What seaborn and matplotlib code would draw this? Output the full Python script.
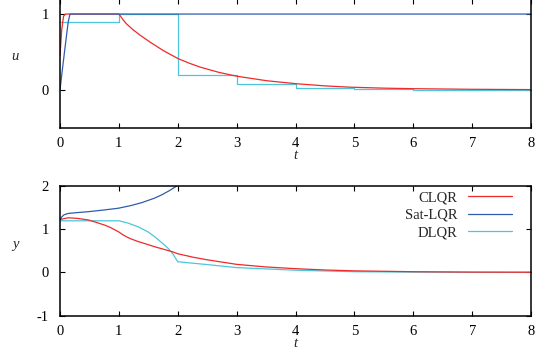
import numpy as np
import pandas as pd
import matplotlib
matplotlib.use("Agg")
import matplotlib.pyplot as plt
import seaborn as sns

# ---- control input u(t) ----
t_clqr_u = [0.0, 0.03, 0.06, 0.09, 1.0, 1.03, 1.07, 1.13, 1.245, 1.38, 1.53, 1.75, 2.01, 2.2, 2.38, 2.7, 3.0, 3.51, 4.02, 4.5, 4.92, 5.5, 6.0, 7.0, 8.0]
clqr_u = [0.45, 0.8, 0.97, 1.0, 1.0, 0.97, 0.925, 0.87, 0.79, 0.71, 0.63, 0.52, 0.41, 0.35, 0.30, 0.23, 0.18, 0.12, 0.08, 0.052, 0.035, 0.022, 0.015, 0.007, 0.003]

t_sat_u = [0.0, 0.05, 0.1, 0.14, 0.17, 8.0]
sat_u = [0.0, 0.33, 0.65, 0.9, 1.0, 1.0]

t_dlqr_u = [0, 1, 2, 3, 4, 5, 6, 7, 8]
dlqr_u = [0.9, 1.0, 0.19, 0.075, 0.027, 0.01, 0.004, 0.0015, 0.0015]

# ---- output y(t) ----
t_clqr_y = [0.0, 0.14, 0.3, 0.48, 0.6, 0.76, 0.85, 0.92, 0.99, 1.06, 1.13, 1.2, 1.33, 1.45, 1.61, 1.9, 2.0, 2.26, 2.5, 3.0, 3.5, 4.0, 4.5, 5.0, 6.0, 7.0, 8.0]
clqr_y = [1.22, 1.26, 1.245, 1.21, 1.16, 1.09, 1.04, 0.99, 0.94, 0.875, 0.82, 0.775, 0.71, 0.66, 0.59, 0.48, 0.43, 0.35, 0.29, 0.185, 0.125, 0.085, 0.055, 0.035, 0.015, 0.006, 0.003]

t_sat_y = [0.0, 0.03, 0.07, 0.14, 0.3, 0.48, 0.75, 0.99, 1.2, 1.39, 1.6, 1.73, 1.85, 1.98, 2.05]
sat_y = [1.2, 1.28, 1.33, 1.36, 1.38, 1.40, 1.44, 1.48, 1.54, 1.61, 1.71, 1.79, 1.88, 1.99, 2.06]

t_dlqr_y = [0.0, 1.0, 1.15, 1.33, 1.5, 1.61, 1.75, 1.84, 1.92, 2.0, 2.5, 3.0, 3.5, 4.0, 5.0, 6.0, 7.0, 8.0]
dlqr_y = [1.19, 1.19, 1.14, 1.05, 0.93, 0.82, 0.66, 0.55, 0.42, 0.245, 0.18, 0.11, 0.08, 0.05, 0.015, 0.006, 0.002, 0.001]

labels = ["CLQR", "Sat-LQR", "DLQR"]
colors = {"CLQR": "#ee2a2a", "Sat-LQR": "#2f5cad", "DLQR": "#4cc6dc"}

x_ticks = [0, 1, 2, 3, 4, 5, 6, 7, 8]
u_ticks = [0, 1]
y_ticks = [-1, 0, 1, 2]

sns.set_theme(style="ticks")
plt.rcParams["font.family"] = ["Liberation Serif", "DejaVu Serif"]
plt.rcParams["axes.unicode_minus"] = False

fs = 10.5
fig = plt.figure(figsize=(5.42, 3.58), dpi=100)
ax_u = fig.add_axes([60 / 542, 1 - 127.7 / 358, 471 / 542, 128.8 / 358])
ax_y = fig.add_axes([60 / 542, 1 - 315.7 / 358, 471 / 542, 130 / 358])

lw = 0.9


def draw(ax, t, v, name, **kw):
    df = pd.DataFrame({"t": t, "v": v})
    sns.lineplot(data=df, x="t", y="v", ax=ax, color=colors[name], lw=lw,
                 estimator=None, sort=False, label=name, **kw)


draw(ax_u, t_dlqr_u, dlqr_u, "DLQR", drawstyle="steps-post")
draw(ax_u, t_clqr_u, clqr_u, "CLQR")
draw(ax_u, t_sat_u, sat_u, "Sat-LQR")

draw(ax_y, t_dlqr_y, dlqr_y, "DLQR")
draw(ax_y, t_clqr_y, clqr_y, "CLQR")
draw(ax_y, t_sat_y, sat_y, "Sat-LQR")

ax_u.set_ylim(-0.5, 1.2)
ax_y.set_ylim(-1, 2)
ax_u.set_yticks(u_ticks)
ax_y.set_yticks(y_ticks)

for ax, name in ((ax_u, "u"), (ax_y, "y")):
    ax.set_xlim(0, 8)
    ax.set_xticks(x_ticks)
    ax.tick_params(direction="in", length=3.5, width=0.8, top=True, right=True,
                   labelsize=fs, pad=7, colors="black")
    ax.tick_params(axis="y", pad=8)
    for s in ax.spines.values():
        s.set_linewidth(1.1)
        s.set_color("black")
    ax.set_xlabel("t", fontsize=fs, fontstyle="italic", labelpad=-1)
    ax.set_ylabel(name, fontsize=fs, fontstyle="italic", rotation=0,
                  labelpad=0)
    ax.yaxis.set_label_coords(-45 / 471, 0.5)
    ax.grid(False)
    ax.set_facecolor("white")

ax_u.get_legend().remove()

handles, labs = ax_y.get_legend_handles_labels()
order = [labs.index(n) for n in labels]
ax_y.legend([handles[i] for i in order], [labs[i] for i in order],
            loc="upper right", bbox_to_anchor=((512 - 60) / 471, 0.96),
            frameon=False, markerfirst=False, fontsize=fs,
            handlelength=3.0, handletextpad=0.75, labelspacing=0.3,
            borderaxespad=0, borderpad=0)

fig.savefig("out.png", dpi=100, facecolor="white")
